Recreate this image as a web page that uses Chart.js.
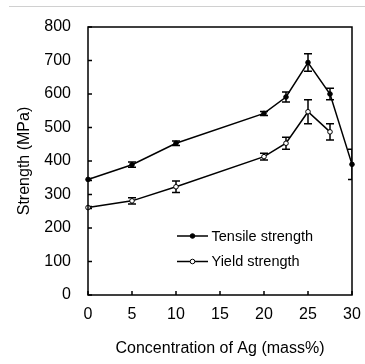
<!DOCTYPE html>
<html>
<head>
<meta charset="utf-8">
<script src="https://cdn.jsdelivr.net/npm/chart.js@4.4.0/dist/chart.umd.min.js"></script>
<style>
    body { margin: 0; background: #fff; }
    #wrap { position: relative; width: 365px; height: 364px; }
    #topRule { position: absolute; left: 9px; right: 0; top: 6px; height: 1px; background: #d0d0d0; }
    canvas { position: absolute; left: 0; top: 0; }
</style>
</head>
<body>
<div id="wrap">
    <div id="topRule"></div>
    <canvas id="chartStrength" width="365" height="364"></canvas>
</div>
<script>
// Ag content (mass%)
const agTensile = [0, 5, 10, 20, 22.5, 25, 27.5, 30];
const tensileStrength = [345, 389, 453, 542, 591, 694, 600, 390];
const tensileError = [3, 8, 7, 6, 15, 26, 17, 45];

const agYield = [0, 5, 10, 20, 22.5, 25, 27.5];
const yieldStrength = [261, 281, 323, 413, 453, 547, 487];
const yieldError = [3, 9, 17, 10, 18, 36, 24];

const xTicks = [0, 5, 10, 15, 20, 25, 30];
const yTicks = [0, 100, 200, 300, 400, 500, 600, 700, 800];

const legendLabels = ['Tensile strength', 'Yield strength'];

const FONT = 'Arial, "Liberation Sans", sans-serif';

/**
 * Error bars, inner tick marks, frame and the in-plot legend
 */
const decorations = {
    id: 'decorations',
    beforeDatasetsDraw(chart) {
        const { ctx, chartArea, scales: { x, y } } = chart;
        ctx.save();
        ctx.beginPath();
        ctx.rect(chartArea.left, chartArea.top, chartArea.right - chartArea.left, chartArea.bottom - chartArea.top);
        ctx.clip();
        ctx.strokeStyle = '#000';
        ctx.lineWidth = 1.5;
        const drawBars = (xs, ys, errs) => {
            xs.forEach((xv, i) => {
                const px = x.getPixelForValue(xv);
                const top = y.getPixelForValue(ys[i] + errs[i]);
                const bot = y.getPixelForValue(ys[i] - errs[i]);
                ctx.beginPath();
                ctx.moveTo(px, top); ctx.lineTo(px, bot);
                ctx.moveTo(px - 4, top); ctx.lineTo(px + 4, top);
                ctx.moveTo(px - 4, bot); ctx.lineTo(px + 4, bot);
                ctx.stroke();
            });
        };
        drawBars(agTensile, tensileStrength, tensileError);
        drawBars(agYield, yieldStrength, yieldError);
        ctx.restore();
    },
    afterDraw(chart) {
        const { ctx, chartArea, scales: { x, y } } = chart;
        ctx.save();
        ctx.strokeStyle = '#000';
        ctx.lineWidth = 1.5;

        // frame
        ctx.strokeRect(chartArea.left, chartArea.top, chartArea.right - chartArea.left, chartArea.bottom - chartArea.top);

        // inward ticks
        ctx.beginPath();
        yTicks.forEach(v => {
            const py = y.getPixelForValue(v);
            ctx.moveTo(chartArea.left, py); ctx.lineTo(chartArea.left + 4, py);
        });
        xTicks.forEach(v => {
            const px = x.getPixelForValue(v);
            ctx.moveTo(px, chartArea.bottom); ctx.lineTo(px, chartArea.bottom - 4);
        });
        ctx.stroke();

        // legend
        ctx.font = '14.5px ' + FONT;
        ctx.fillStyle = '#000';
        ctx.textBaseline = 'middle';
        const rows = [236, 261.5];
        rows.forEach((ry, i) => {
            ctx.beginPath();
            ctx.moveTo(177, ry); ctx.lineTo(208, ry);
            ctx.stroke();
            ctx.beginPath();
            ctx.arc(192.5, ry, 2.3, 0, Math.PI * 2);
            ctx.fillStyle = i === 0 ? '#000' : '#fff';
            ctx.fill();
            ctx.lineWidth = 1;
            ctx.stroke();
            ctx.lineWidth = 1.5;
            ctx.fillStyle = '#000';
            ctx.fillText(legendLabels[i], 211.5, ry + 0.5);
        });
        ctx.restore();
    }
};

const ctx = document.getElementById('chartStrength').getContext('2d');

new Chart(ctx, {
    type: 'scatter',
    data: {
        datasets: [
            {
                label: legendLabels[0],
                data: agTensile.map((v, i) => ({ x: v, y: tensileStrength[i] })),
                showLine: true,
                borderColor: '#000',
                borderWidth: 1.5,
                pointRadius: 2.3,
                pointBackgroundColor: '#000',
                pointBorderColor: '#000',
                pointBorderWidth: 1,
                clip: false
            },
            {
                label: legendLabels[1],
                data: agYield.map((v, i) => ({ x: v, y: yieldStrength[i] })),
                showLine: true,
                borderColor: '#000',
                borderWidth: 1.5,
                pointRadius: 2.3,
                pointBackgroundColor: '#fff',
                pointBorderColor: '#000',
                pointBorderWidth: 1,
                clip: false
            }
        ]
    },
    options: {
        responsive: false,
        animation: false,
        layout: { padding: { left: 0, right: 13, top: 27, bottom: 0 } },
        plugins: {
            legend: { display: false },
            tooltip: { enabled: false }
        },
        scales: {
            x: {
                type: 'linear',
                min: 0,
                max: 30,
                afterBuildTicks: (axis) => { axis.ticks = xTicks.map(v => ({ value: v })); },
                afterFit: (axis) => {
                    axis.height = 69;
                    axis.paddingLeft = 0;
                    axis.paddingRight = 0;
                },
                grid: { display: false, drawTicks: false },
                border: { display: false },
                ticks: { color: '#000', font: { family: FONT, size: 16 }, padding: 10, maxRotation: 0 },
                title: {
                    display: true,
                    text: 'Concentration of Ag (mass%)',
                    color: '#000',
                    font: { family: FONT, size: 16 },
                    padding: { top: 0, bottom: 6 }
                }
            },
            y: {
                type: 'linear',
                min: 0,
                max: 800,
                afterBuildTicks: (axis) => { axis.ticks = yTicks.map(v => ({ value: v })); },
                afterFit: (axis) => {
                    axis.width = 88;
                    axis.paddingTop = 0;
                    axis.paddingBottom = 0;
                },
                grid: { display: false, drawTicks: false },
                border: { display: false },
                ticks: { color: '#000', font: { family: FONT, size: 16 }, padding: 17 },
                title: {
                    display: true,
                    text: 'Strength (MPa)',
                    color: '#000',
                    font: { family: FONT, size: 16 },
                    padding: { top: 15, bottom: 0 }
                }
            }
        }
    },
    plugins: [decorations]
});
</script>
</body>
</html>
